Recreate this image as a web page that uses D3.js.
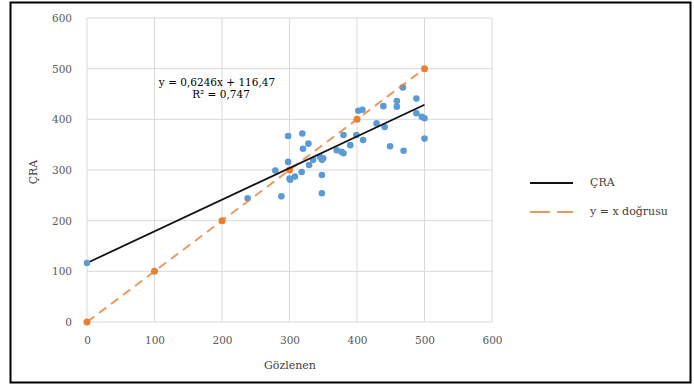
<!DOCTYPE html>
<html><head><meta charset="utf-8">
<script src="https://cdn.jsdelivr.net/npm/d3@7"></script>
<style>
html,body{margin:0;padding:0;background:#fff;}
text{font-family:"DejaVu Serif","Liberation Serif",serif;}
</style></head>
<body><svg id="c" width="694" height="387"></svg>
<script>
// Observed (Gözlenen) values
const obsX = [468,488,459,459,439,402,408,488,496,500,500,469,449,429,441,409,399,390,380,377,370,350,345,348,348,328,320,319,298,298,300,308,318,329,279,288,335,380,238,348,301];
// Predicted (ÇRA) values
const predY = [463,441,436,425,426,417,419,412,405,402,362,338,347,392,385,359,369,349,369,336,339,323,326,290,254,352,342,372,367,316,283,287,296,310,299,248,320,333,244,320,281];
const craLineX = [0, 500];
const craLineY = [116.47, 428.77];
const identX = [0, 100, 200, 300, 400, 500];
const identY = [0, 100, 200, 300, 400, 500];
const xTicks = [0, 100, 200, 300, 400, 500, 600];
const yTicks = [0, 100, 200, 300, 400, 500, 600];
const legendLabels = ["ÇRA", "y = x doğrusu"];
const eqText = "y = 0,6246x  + 116,47";
const r2Text = "R² = 0,747";

const svg = d3.select("#c");
const blue = "#5B9BD5", orange = "#ED7D31";
const FONT = "DejaVu Serif";
svg.append("rect").attr("x",10.5).attr("y",2.5).attr("width",680).attr("height",380)
  .attr("fill","#fff").attr("stroke","#000").attr("stroke-width",2);

const x = d3.scaleLinear().domain([0,600]).range([87,492]);
const y = d3.scaleLinear().domain([0,600]).range([322,18]);

// gridlines
svg.append("g").selectAll("line").data(yTicks).join("line")
  .attr("x1",x(0)).attr("x2",x(600)).attr("y1",d=>y(d)).attr("y2",d=>y(d))
  .attr("stroke","#D9D9D9").attr("stroke-width",1);
svg.append("g").selectAll("line").data(xTicks).join("line")
  .attr("y1",y(0)).attr("y2",y(600)).attr("x1",d=>x(d)).attr("x2",d=>x(d))
  .attr("stroke","#D9D9D9").attr("stroke-width",1);

// axes (labels only)
const xa = svg.append("g").attr("transform",`translate(0,${y(0)})`)
  .call(d3.axisBottom(x).tickValues(xTicks).tickSize(0).tickPadding(15).tickFormat(d3.format("d")));
xa.select(".domain").remove();
xa.selectAll("text").attr("fill","#595959").style("font-size","10.5px").style("font-family",FONT);
const ya = svg.append("g").attr("transform",`translate(${x(0)},0)`)
  .call(d3.axisLeft(y).tickValues(yTicks).tickSize(0).tickPadding(15).tickFormat(d3.format("d")));
ya.select(".domain").remove();
ya.selectAll("text").attr("fill","#595959").style("font-size","10.5px").style("font-family",FONT);

svg.append("text").attr("x",290).attr("y",369).attr("text-anchor","middle")
  .attr("fill","#404040").style("font-size","11px").text("Gözlenen");
svg.append("text").attr("transform","translate(37,172) rotate(-90)").attr("text-anchor","middle")
  .attr("fill","#404040").style("font-size","11px").text("ÇRA");

// scatter points
const pts = obsX.map((v,i)=>[v,predY[i]]);
svg.append("g").selectAll("circle").data(pts).join("circle")
  .attr("cx",d=>x(d[0])).attr("cy",d=>y(d[1])).attr("r",3.3).attr("fill",blue);

// identity line
const line = d3.line().x(d=>x(d[0])).y(d=>y(d[1]));
const ident = identX.map((v,i)=>[v,identY[i]]);
svg.append("path").datum(ident).attr("d",line).attr("fill","none")
  .attr("stroke",orange).attr("stroke-width",2).attr("stroke-dasharray","9,6").attr("opacity",0.8);
svg.append("g").selectAll("circle").data(ident).join("circle")
  .attr("cx",d=>x(d[0])).attr("cy",d=>y(d[1])).attr("r",3.5).attr("fill",orange);

// ÇRA line
const cra = craLineX.map((v,i)=>[v,craLineY[i]]);
svg.append("path").datum(cra).attr("d",line).attr("fill","none")
  .attr("stroke","#111").attr("stroke-width",1.8);
svg.append("circle").attr("cx",x(cra[0][0])).attr("cy",y(cra[0][1])).attr("r",3.2).attr("fill",blue);

// equation
svg.append("text").attr("x",217).attr("y",86).attr("text-anchor","middle")
  .attr("fill","#000").style("font-size","10.5px").text(eqText);
svg.append("text").attr("x",221).attr("y",98).attr("text-anchor","middle")
  .attr("fill","#000").style("font-size","10.5px").text(r2Text);

// legend
const lg = svg.append("g");
lg.append("line").attr("x1",530).attr("x2",573).attr("y1",183).attr("y2",183)
  .attr("stroke","#111").attr("stroke-width",2);
lg.append("line").attr("x1",530).attr("x2",573).attr("y1",212).attr("y2",212)
  .attr("stroke",orange).attr("stroke-width",2).attr("stroke-dasharray","20,7").attr("opacity",0.8);
lg.selectAll("text").data(legendLabels).join("text")
  .attr("x",590).attr("y",(d,i)=>186+i*29).attr("fill","#404040").style("font-size","11px").text(d=>d);
</script></body></html>
